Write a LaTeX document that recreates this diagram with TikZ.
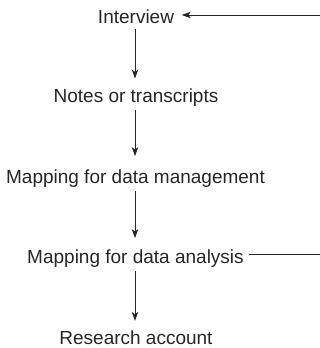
\documentclass[tikz,border=0pt]{standalone}
\usepackage{fontspec}
\setmainfont{Liberation Sans}
\usepackage{xcolor}
\usetikzlibrary{arrows.meta}

\tikzset{
  step label/.style={anchor=base,inner sep=0pt,text height=14pt,text depth=4pt,text=black!85,font=\fontsize{19}{22}\selectfont},
  flow arrow/.style={draw=black!85,line width=0.8pt,-{Stealth[length=9pt,width=6.5pt,inset=2.5pt]}},
  flow line/.style={draw=black!85,line width=0.8pt}
}

\begin{document}
\begin{tikzpicture}[x=1pt,y=1pt,yscale=-1,xscale=1]
\useasboundingbox (0,0) rectangle (320,348);

\draw (136,23.3) node [step label] (interview) {Interview};
\draw (136,102.7) node [step label] (notes) {Notes or transcripts};
\draw (135.5,183.3) node [step label] (dmanage) {Mapping for data management};
\draw (135.5,263.3) node [step label] (danalysis) {Mapping for data analysis};
\draw (136,344) node [step label] (account) {Research account};

\coordinate (retTop) at (320,15);
\coordinate (retBot) at (320,254);

\draw [flow arrow, shorten <=1.5pt, shorten >=10pt] (interview.south -| 135,0) -- (notes.north -| 135,0);
\draw [flow arrow, shorten <=3pt, shorten >=13pt] (notes.south -| 135,0) -- (dmanage.north -| 135,0);
\draw [flow arrow, shorten <=3pt, shorten >=11pt] (dmanage.south -| 135,0) -- (danalysis.north -| 135,0);
\draw [flow arrow, shorten <=3pt, shorten >=9pt] (danalysis.south -| 135,0) -- (account.north -| 135,0);

% loop back from analysis to interview
\draw [flow arrow, shorten >=7.5pt] (retTop) -- (retTop -| interview.east);
\draw [flow line, shorten <=5pt] (retBot -| danalysis.east) -- (retBot);

\end{tikzpicture}
\end{document}
